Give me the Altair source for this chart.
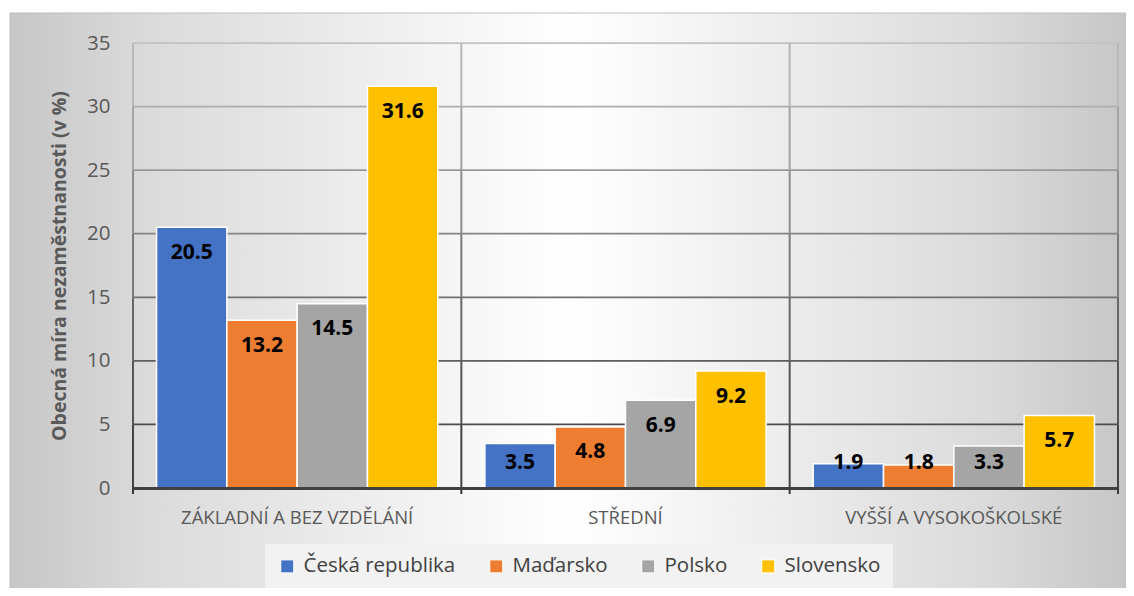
import altair as alt
import pandas as pd

# ---- data ----
categories = ["ZÁKLADNÍ A BEZ VZDĚLÁNÍ", "STŘEDNÍ", "VYŠŠÍ A VYSOKOŠKOLSKÉ"]
countries = ["Česká republika", "Maďarsko", "Polsko", "Slovensko"]
ceska_republika = [20.5, 3.5, 1.9]
madarsko = [13.2, 4.8, 1.8]
polsko = [14.5, 6.9, 3.3]
slovensko = [31.6, 9.2, 5.7]
y_ticks = [0, 5, 10, 15, 20, 25, 30, 35]
y_title = "Obecná míra nezaměstnanosti (v %)"

# ---- style ----
colors = ["#4472C4", "#ED7D31", "#A5A5A5", "#FFC000"]
W, H = 985, 445
PAD = {"left": 125, "top": 35, "right": 8, "bottom": 100}
px_per_unit = H / y_ticks[-1]
TICK_PX = 6

series = [ceska_republika, madarsko, polsko, slovensko]
rows = []
for ci, cat in enumerate(categories):
    for country, vals in zip(countries, series):
        rows.append({"cat": cat, "country": country, "value": vals[ci]})
df = pd.DataFrame(rows)

seg_bounds = [(-TICK_PX / px_per_unit, 0)] + list(zip(y_ticks[:-1], y_ticks[1:]))
seg_rows = []
for cat in categories:
    for lo, hi in seg_bounds:
        seg_rows.append({"cat": cat, "lo": lo, "hi": hi, "shade": (lo + hi) / 2})
seg_df = pd.DataFrame(seg_rows)
grid_df = pd.DataFrame({"g": y_ticks[1:]})

xscale = alt.Scale(domain=categories, paddingInner=0, paddingOuter=0)
yscale = alt.Scale(domain=[y_ticks[0], y_ticks[-1]], nice=False)
shade_scale = alt.Scale(domain=[0, 35], range=["#3a3a3a", "#c2c2c2"])
off_scale = alt.Scale(domain=countries, paddingOuter=0.335, paddingInner=0)

x_axis = alt.Axis(
    title=None, labelAngle=0, labelFontSize=18.5, labelColor="#595959",
    labelPadding=20, labelLimit=500, ticks=False, grid=False,
    domainColor="#404040", domainWidth=3, zindex=1)
y_axis = alt.Axis(
    values=y_ticks, title=y_title, grid=False, domain=False, ticks=False,
    labelFontSize=20.5, labelColor="#595959", labelPadding=23,
    titleFontSize=19.5, titleFontWeight="bold", titleColor="#595959",
    titlePadding=17, zindex=1)

bg = alt.Chart(pd.DataFrame({"a": [0]})).mark_rect(
    fill=alt.LinearGradient(
        gradient="linear", x1=0, y1=0, x2=1, y2=0,
        stops=[
            alt.GradientStop(offset=0, color="#c6c6c6"),
            alt.GradientStop(offset=0.12, color="#dadada"),
            alt.GradientStop(offset=0.5, color="#ffffff"),
            alt.GradientStop(offset=0.88, color="#dadada"),
            alt.GradientStop(offset=1, color="#c6c6c6"),
        ],
    ),
    stroke="#bdbdbd", strokeWidth=1,
).encode(
    x=alt.value(-123), x2=alt.value(W + 8),
    y=alt.value(-30), y2=alt.value(H + 107),
)

hgrid = alt.Chart(grid_df).mark_rule(strokeWidth=1.75).encode(
    y=alt.Y("g:Q", scale=yscale, axis=y_axis, title=y_title),
    x=alt.value(0), x2=alt.value(W),
    stroke=alt.Stroke("g:Q", scale=shade_scale, legend=None),
)

vseg = alt.Chart(seg_df).mark_rule(strokeWidth=2).encode(
    x=alt.X("cat:N", scale=xscale, sort=categories, bandPosition=0, axis=x_axis),
    y=alt.Y("lo:Q", scale=yscale, axis=y_axis, title=y_title),
    y2="hi:Q",
    stroke=alt.Stroke("shade:Q", scale=shade_scale, legend=None),
)

vseg_last = alt.Chart(seg_df).transform_filter(
    alt.datum.cat == categories[-1]
).mark_rule(strokeWidth=2).encode(
    x=alt.X("cat:N", scale=xscale, sort=categories, bandPosition=1, axis=x_axis),
    y=alt.Y("lo:Q", scale=yscale, axis=y_axis, title=y_title),
    y2="hi:Q",
    stroke=alt.Stroke("shade:Q", scale=shade_scale, legend=None),
)

bars = alt.Chart(df).mark_bar(stroke="white", strokeWidth=1.5).encode(
    x=alt.X("cat:N", scale=xscale, sort=categories, axis=x_axis),
    xOffset=alt.XOffset("country:N", sort=countries, scale=off_scale),
    y=alt.Y("value:Q", scale=yscale, axis=y_axis, title=y_title),
    color=alt.Color("country:N", sort=countries,
                    scale=alt.Scale(domain=countries, range=colors),
                    legend=alt.Legend(
                        title=None, orient="none", legendX=132, legendY=501,
                        direction="horizontal", symbolType="square",
                        symbolSize=169, symbolStrokeColor="white",
                        symbolStrokeWidth=1, symbolOpacity=1,
                        labelFontSize=20.5, labelColor="#404040",
                        columnPadding=30, labelOffset=6, labelLimit=400,
                        fillColor="#f2f2f2", padding=12)),
)

labels = alt.Chart(df).transform_calculate(
    ly=f"max(datum.value - {25.5 / px_per_unit}, {25 / px_per_unit})"
).mark_text(fontSize=21, fontWeight="bold", color="black", baseline="middle").encode(
    x=alt.X("cat:N", scale=xscale, sort=categories, axis=x_axis),
    xOffset=alt.XOffset("country:N", sort=countries, scale=off_scale),
    y=alt.Y("ly:Q", scale=yscale, axis=y_axis, title=y_title),
    text=alt.Text("value:Q", format=".1f"),
)

chart = alt.layer(bg, hgrid, vseg, vseg_last, bars, labels).properties(
    width=W, height=H, autosize="none", padding=PAD,
).configure(font="Open Sans", background="white").configure_view(stroke=None)

chart.save("out.html", embed_options={"renderer": "svg", "actions": False})
